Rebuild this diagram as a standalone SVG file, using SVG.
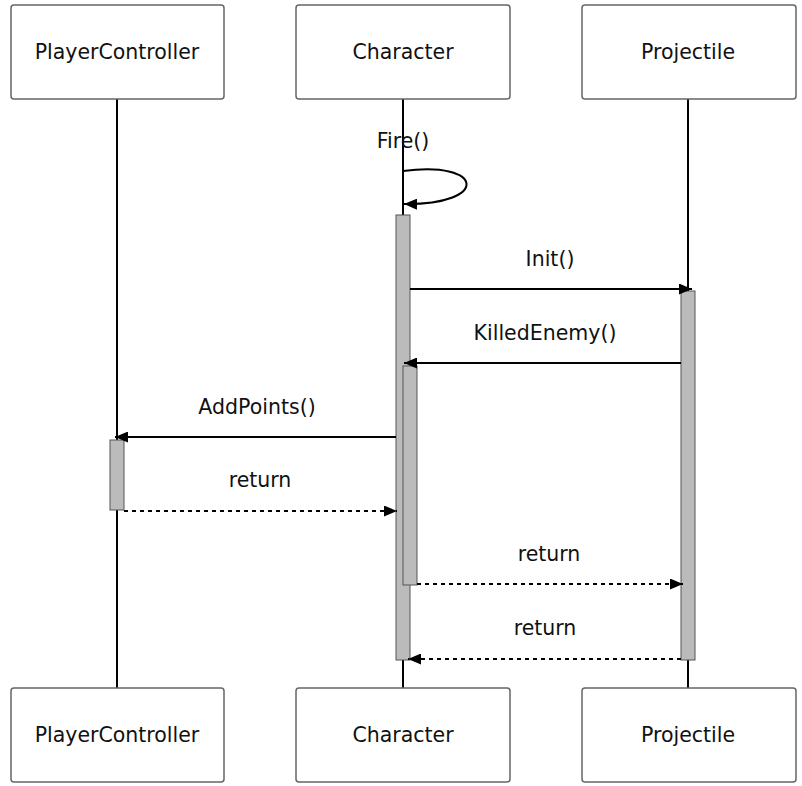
<svg xmlns="http://www.w3.org/2000/svg" width="802" height="786" viewBox="0 0 802 786">
<style>
.actor{fill:#fff;stroke:#666;stroke-width:1.5}
.lbl{font-family:"DejaVu Sans",sans-serif;font-size:20.5px;fill:#111;text-anchor:middle}
.life{stroke:#000;stroke-width:2}
.act{fill:#bbb;stroke:#555;stroke-width:1}
.msg{stroke:#000;stroke-width:2;fill:none}
.dash{stroke-dasharray:4 4}
</style>
<defs>
<marker id="ah" viewBox="0 0 13 11" refX="13" refY="5.5" markerWidth="13" markerHeight="11" markerUnits="userSpaceOnUse" orient="auto">
<path d="M0,0 L13,5.5 L0,11 z" fill="#000"/>
</marker>
</defs>
<g id="lifelines">
<line class="life" x1="117" y1="99" x2="117" y2="688"/>
<line class="life" x1="403" y1="99" x2="403" y2="688"/>
<line class="life" x1="688" y1="99" x2="688" y2="688"/>
</g>
<g id="actor-pc-top"><rect class="actor" x="11" y="5" width="213" height="94" rx="3"/><text class="lbl" x="117" y="59">PlayerController</text></g>
<g id="actor-ch-top"><rect class="actor" x="296" y="5" width="214" height="94" rx="3"/><text class="lbl" x="403" y="59">Character</text></g>
<g id="actor-pr-top"><rect class="actor" x="582" y="5" width="214" height="94" rx="3"/><text class="lbl" x="688" y="59">Projectile</text></g>
<g id="actor-pc-bot"><rect class="actor" x="11" y="688" width="213" height="94" rx="3"/><text class="lbl" x="117" y="742">PlayerController</text></g>
<g id="actor-ch-bot"><rect class="actor" x="296" y="688" width="214" height="94" rx="3"/><text class="lbl" x="403" y="742">Character</text></g>
<g id="actor-pr-bot"><rect class="actor" x="582" y="688" width="214" height="94" rx="3"/><text class="lbl" x="688" y="742">Projectile</text></g>
<g id="activations">
<rect class="act" x="396" y="215" width="14" height="445"/>
<rect class="act" x="403" y="366" width="14" height="219"/>
<rect class="act" x="681" y="291" width="14" height="369"/>
<rect class="act" x="110" y="440" width="14" height="70"/>
</g>
<g id="connectors">
<path class="msg" d="M403,171 C485,160 490,205 404,204" marker-end="url(#ah)"/>
<line class="msg" x1="410" y1="289" x2="692" y2="289" marker-end="url(#ah)"/>
<line class="msg" x1="681" y1="363" x2="404" y2="363" marker-end="url(#ah)"/>
<line class="msg" x1="396" y1="437" x2="115" y2="437" marker-end="url(#ah)"/>
<line class="msg dash" x1="124" y1="511" x2="397" y2="511" marker-end="url(#ah)"/>
<line class="msg dash" x1="417" y1="584" x2="683" y2="584" marker-end="url(#ah)"/>
<line class="msg dash" x1="681" y1="659" x2="408" y2="659" marker-end="url(#ah)"/>
</g>
<g id="labels">
<text class="lbl" x="403" y="148">Fire()</text>
<text class="lbl" x="550" y="266">Init()</text>
<text class="lbl" x="545" y="340">KilledEnemy()</text>
<text class="lbl" x="257" y="414">AddPoints()</text>
<text class="lbl" x="260" y="487">return</text>
<text class="lbl" x="549" y="561">return</text>
<text class="lbl" x="545" y="635">return</text>
</g>
</svg>
